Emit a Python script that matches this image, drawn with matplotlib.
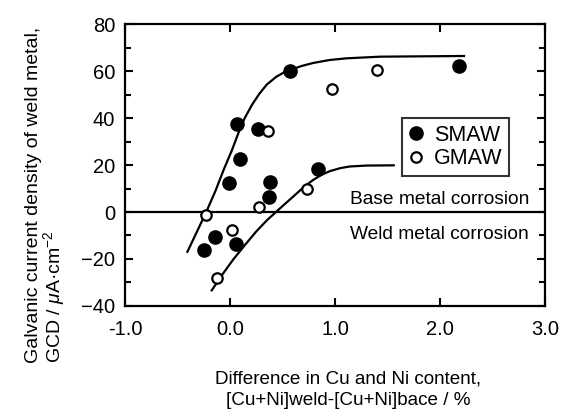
import matplotlib
matplotlib.use("Agg")
import matplotlib.pyplot as plt
from matplotlib.lines import Line2D
from matplotlib.ticker import MultipleLocator

plt.rcParams['font.family'] = ['Liberation Sans', 'DejaVu Sans']
plt.rcParams['mathtext.fontset'] = 'custom'
plt.rcParams['mathtext.it'] = 'Liberation Sans:italic'
plt.rcParams['mathtext.rm'] = 'Liberation Sans'

# measured points
smaw_x = [-0.25, -0.14, -0.01, 0.06, 0.07, 0.10, 0.27, 0.37, 0.38, 0.57, 0.84, 2.18]
smaw_y = [-16.0, -10.6, 12.5, -13.6, 37.6, 22.8, 35.3, 6.6, 12.9, 60.3, 18.3, 62.2]
gmaw_x = [-0.23, -0.12, 0.02, 0.28, 0.36, 0.73, 0.97, 1.40]
gmaw_y = [-1.1, -28.1, -7.5, 2.1, 34.7, 10.0, 52.3, 60.6]

# hand-drawn trend curves
upper_x = [-0.41, -0.32, -0.23, -0.14, -0.06, 0.02, 0.08, 0.14, 0.21, 0.28,
           0.35, 0.44, 0.51, 0.57, 0.68, 0.79, 0.95, 1.11, 1.43, 2.24]
upper_y = [-17.4, -8.9, -0.4, 8.8, 18.0, 26.5, 33.6, 40.0, 45.7, 50.4,
           54.3, 57.6, 59.4, 60.5, 62.2, 63.5, 64.8, 65.5, 66.2, 66.5]
lower_x = [-0.18, -0.08, 0.03, 0.14, 0.25, 0.35, 0.46, 0.56, 0.64, 0.71,
           0.79, 0.87, 0.95, 1.05, 1.14, 1.30, 1.57]
lower_y = [-33.8, -27.1, -20.3, -14.2, -8.3, -3.6, 0.9, 4.9, 8.1, 10.9,
           13.6, 15.8, 17.4, 18.7, 19.4, 19.8, 19.9]

fig = plt.figure(figsize=(5.68, 4.19), dpi=100)
ax = fig.add_axes([0.220, 0.270, 0.7395, 0.672])

ax.plot(upper_x, upper_y, color='black', lw=1.6, solid_capstyle='butt', solid_joinstyle='round')
ax.plot(lower_x, lower_y, color='black', lw=1.6, solid_capstyle='butt', solid_joinstyle='round')
ax.axhline(0, color='black', lw=1.6)

ax.plot(smaw_x, smaw_y, 'o', ms=9.5, mfc='black', mec='black', zorder=3)
ax.plot(gmaw_x, gmaw_y, 'o', ms=7.5, mfc='white', mec='black', mew=1.6, zorder=3)

ax.text(2.85, 3.5, 'Base metal corrosion', ha='right', va='baseline', fontsize=13.8)
ax.text(2.85, -11.4, 'Weld metal corrosion', ha='right', va='baseline', fontsize=13.8)

handles = [
    Line2D([], [], marker='o', ls='none', ms=9.5, mfc='black', mec='black'),
    Line2D([], [], marker='o', ls='none', ms=7.5, mfc='white', mec='black', mew=1.6),
]
leg = ax.legend(handles, ['SMAW', 'GMAW'], loc='upper left',
                bbox_to_anchor=(0.659, 0.666), fontsize=15.5, frameon=True,
                fancybox=False, handlelength=0.7, handletextpad=0.5,
                borderpad=0.3, labelspacing=0.12, borderaxespad=0)
leg.get_frame().set_edgecolor('black')
leg.get_frame().set_linewidth(1.5)

ax.set_xlim(-1.0, 3.0)
ax.set_ylim(-40, 80)
ax.set_xticks([-1.0, 0.0, 1.0, 2.0, 3.0])
ax.set_xticklabels(['-1.0', '0.0', '1.0', '2.0', '3.0'])
ax.yaxis.set_major_locator(MultipleLocator(20))
ax.yaxis.set_minor_locator(MultipleLocator(10))
ax.tick_params(which='both', direction='in', top=True, right=True, width=1.5)
ax.tick_params(which='major', length=6, labelsize=14.5)
ax.tick_params(axis='y', which='major', pad=7)
ax.tick_params(axis='x', which='major', pad=10)
ax.tick_params(which='minor', length=4)
for s in ax.spines.values():
    s.set_linewidth(1.6)

fig.text(0.613, 0.070, 'Difference in Cu and Ni content,\n[Cu+Ni]weld-[Cu+Ni]bace / %',
         ha='center', va='center', fontsize=13.6, linespacing=1.35)
fig.text(0.081, 0.134, 'Galvanic current density of weld metal,\nGCD / $\\mu$A\u00b7cm$^{-2}$',
         rotation=90, ha='center', va='bottom', multialignment='left',
         fontsize=14, linespacing=0.95)

fig.savefig('out.png', dpi=100)
